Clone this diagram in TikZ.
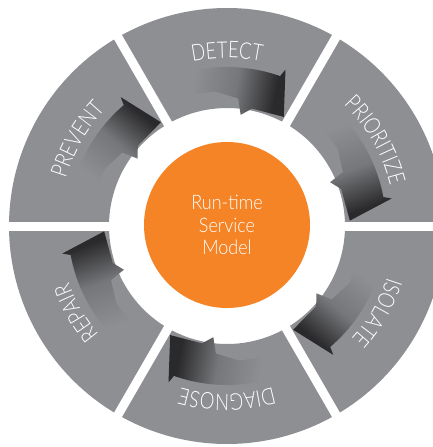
\documentclass[tikz,border=0pt]{standalone}
\usepackage{fontspec}
\newfontfamily\ringfont[FakeStretch=0.8]{Lato Light}
\newfontfamily\centerfont[FakeStretch=0.9]{Lato Light}
\usetikzlibrary{decorations.text}
\definecolor{seggray}{HTML}{8E8F93}
\definecolor{arrowmid}{HTML}{76777A}
\definecolor{arrowdark}{HTML}{2A2A2C}
\definecolor{runorange}{HTML}{F58426}
\pgfdeclarehorizontalshading{arrowshade}{100bp}{color(0bp)=(seggray); color(30bp)=(seggray);
    color(52bp)=(arrowmid); color(72bp)=(arrowdark); color(100bp)=(arrowdark)}

\begin{document}
\begin{tikzpicture}[x=1pt,y=1pt,
    segment/.style={fill=seggray},
    gap/.style={white,line width=9pt},
    ringlabel/.style={decorate,decoration={text along path,text align=center,
        text color=white,text={|\ringfont\fontsize{23}{23}\selectfont|#1}}}]
    \useasboundingbox (-227,-221) rectangle (206,226);
    %ring of six segments
    \foreach \c in {90,30,-30,-90,-150,-210}
        \fill[segment] (\c+30:118) arc[start angle=\c+30,end angle=\c-30,radius=118]
            -- (\c-30:218) arc[start angle=\c-30,end angle=\c+30,radius=218] -- cycle;
    %curved arrows, dark at the head, with a spike on the inner side
    \foreach \c [evaluate=\c as \sa using \c-100] in {90,30,-30,-90,-150,-210}
        \shade[shading=arrowshade,shading angle=\sa]
            (\c+18:159) arc[start angle=\c+18,end angle=\c-19.5,radius=159]
            -- (\c-20.5:167) -- (\c-27.5:123) -- (\c-12:120) -- (\c-7:112)
            -- (\c-5:128) -- (\c+5:135) arc[start angle=\c+5,end angle=\c+18,radius=137] -- cycle;
    %white gaps between segments
    \foreach \a in {0,60,...,300}
        \draw[gap] (\a:100) -- (\a:225);
    %labels along the ring
    \foreach \c/\t in {90/DETECT,30/PRIORITIZE,-30/ISOLATE,-90/DIAGNOSE,-150/REPAIR,-210/PREVENT}
        \path[ringlabel/.expand once=\t] (\c+40:168) arc[start angle=\c+40,end angle=\c-40,radius=168];
    \node[circle,fill=runorange,minimum size=166pt,inner sep=0pt,text=white,align=center,
        font=\centerfont\fontsize{20}{22.5}\selectfont] (model) at (0,1) {Run-time\\Service\\Model};
\end{tikzpicture}
\end{document}
